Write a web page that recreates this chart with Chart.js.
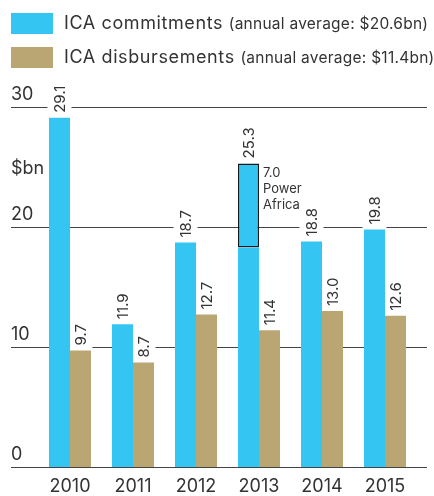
<!DOCTYPE html>
<html>
<head>
<meta charset="utf-8">
<script src="https://cdn.jsdelivr.net/npm/chart.js@4"></script>
<style>
    html, body { margin: 0; padding: 0; background: #fff; }
    body { width: 434px; height: 496px; position: relative; overflow: hidden; font-family: Inter, Roboto, sans-serif; color: #333; }
    #chart-wrap { position: absolute; left: 0; top: 0; width: 434px; height: 496px; }
    .legend { position: absolute; left: 11px; }
    .legend .swatch { position: absolute; left: 0; top: 0; width: 42px; height: 21px; }
    .legend .text { position: absolute; left: 53px; top: -1px; white-space: nowrap; font-size: 18px; line-height: 22px; letter-spacing: 0.6px; }
    .legend .text small { font-size: 15.5px; letter-spacing: 0.25px; }
</style>
</head>
<body>
<div id="chart-wrap"><canvas id="ica-chart" width="434" height="496"></canvas></div>
<div class="legend" style="top:13px"><div class="swatch" style="background:#34c5f3"></div><div class="text">ICA commitments <small>(annual average: $20.6bn)</small></div></div>
<div class="legend" style="top:47px"><div class="swatch" style="background:#b9a672"></div><div class="text">ICA disbursements <small>(annual average: $11.4bn)</small></div></div>
<script>
// Data
const years = ['2010', '2011', '2012', '2013', '2014', '2015'];
const commitments = [29.1, 11.9, 18.7, 25.3, 18.8, 19.8];
const powerAfrica = [null, null, null, 7.0, null, null];
const disbursements = [9.7, 8.7, 12.7, 11.4, 13.0, 12.6];
const yTicks = [0, 10, 20, 30];

const BLUE = '#34c5f3';
const TAN = '#b9a672';
const INK = '#333';
const FONT = 'Inter, Roboto, sans-serif';

// commitments without the Power Africa slice, so the slice can stack on top
const commitmentsBase = commitments.map((v, i) => v - (powerAfrica[i] || 0));

// gridlines, tick labels and white label backgrounds (drawn under the bars)
const backdropPlugin = {
    id: 'backdrop',
    beforeDatasetsDraw(chart) {
        const ctx = chart.ctx;
        const y = chart.scales.y;
        ctx.save();
        ctx.strokeStyle = '#444';
        ctx.lineWidth = 1.2;
        yTicks.forEach(t => {
            const py = Math.round(y.getPixelForValue(t)) + 0.5;
            ctx.beginPath();
            ctx.moveTo(11, py);
            ctx.lineTo(427, py);
            ctx.stroke();
        });
        ctx.fillStyle = INK;
        ctx.font = '18px ' + FONT;
        ctx.textBaseline = 'alphabetic';
        ctx.textAlign = 'left';
        yTicks.forEach(t => {
            ctx.fillText(String(t), 11, y.getPixelForValue(t) - 7);
        });
        ctx.fillText('$bn', 11, y.getPixelForValue(25) + 7);

        // white boxes behind value labels, so gridlines break there
        ctx.fillStyle = '#fff';
        eachLabel(chart, (x, top, text) => {
            ctx.font = '15px ' + FONT;
            const w = ctx.measureText(text).width;
            ctx.fillRect(x - 12, top - w - 8, 24, w + 8);
        });
        ctx.restore();
    },
    afterDatasetsDraw(chart) {
        const ctx = chart.ctx;
        const x = chart.scales.x;
        const y = chart.scales.y;
        ctx.save();
        ctx.fillStyle = INK;
        ctx.font = '15px ' + FONT;
        eachLabel(chart, (px, top, text) => {
            ctx.save();
            ctx.translate(px + 5.5, top - 5);
            ctx.rotate(-Math.PI / 2);
            ctx.textAlign = 'left';
            ctx.textBaseline = 'alphabetic';
            ctx.fillText(text, 0, 0);
            ctx.restore();
        });

        // Power Africa note beside its box
        const meta = chart.getDatasetMeta(1);
        powerAfrica.forEach((v, i) => {
            if (v == null) return;
            const bar = meta.data[i];
            const lx = bar.x + bar.width / 2 + 4;
            const ty = y.getPixelForValue(commitments[i]);
            ctx.font = '13px ' + FONT;
            ctx.textAlign = 'left';
            ctx.fillText(v.toFixed(1), lx, ty + 14);
            ctx.fillText('Power', lx, ty + 30);
            ctx.fillText('Africa', lx, ty + 46);
        });

        // year labels
        ctx.font = '18px ' + FONT;
        ctx.textAlign = 'center';
        years.forEach((yr, i) => {
            ctx.fillText(yr, x.getPixelForValue(i), 492);
        });
        ctx.restore();
    }
};

function eachLabel(chart, fn) {
    const y = chart.scales.y;
    const blue = chart.getDatasetMeta(0);
    const tan = chart.getDatasetMeta(2);
    commitments.forEach((v, i) => {
        fn(blue.data[i].x, y.getPixelForValue(v), v.toFixed(1));
    });
    disbursements.forEach((v, i) => {
        fn(tan.data[i].x, y.getPixelForValue(v), v.toFixed(1));
    });
}

new Chart(document.getElementById('ica-chart'), {
    type: 'bar',
    data: {
        labels: years,
        datasets: [{
            label: 'ICA commitments',
            data: commitmentsBase,
            backgroundColor: BLUE,
            stack: 'commit',
            borderWidth: 0
        }, {
            label: 'Power Africa',
            data: powerAfrica,
            backgroundColor: BLUE,
            borderColor: '#1a1a1a',
            borderWidth: 1.5,
            borderSkipped: false,
            stack: 'commit'
        }, {
            label: 'ICA disbursements',
            data: disbursements,
            backgroundColor: TAN,
            stack: 'disb',
            borderWidth: 0
        }]
    },
    options: {
        responsive: false,
        animation: false,
        layout: {
            padding: { left: 38.5, right: 17.5, top: 107, bottom: 29 }
        },
        datasets: {
            bar: { categoryPercentage: 0.667, barPercentage: 1 }
        },
        plugins: {
            legend: { display: false },
            tooltip: { enabled: false }
        },
        scales: {
            x: { display: false, stacked: true },
            y: { display: false, stacked: true, min: 0, max: 30 }
        }
    },
    plugins: [backdropPlugin]
});
</script>
</body>
</html>
